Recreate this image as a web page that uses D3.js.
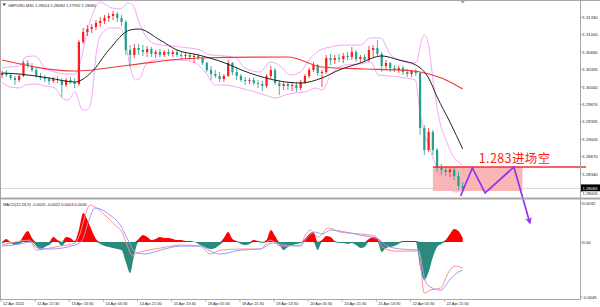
<!DOCTYPE html>
<html lang="en">
<head>
<meta charset="UTF-8">
<title>GBPUSD,M30</title>
<script src="https://d3js.org/d3.v7.min.js"></script>
<style>
  body { margin: 0; background: #fff; }
  svg { display: block; }
  text { font-family: "Liberation Sans", "DejaVu Sans", sans-serif; fill: #222; }
</style>
</head>
<body>
<svg width="600" height="307"></svg>
<script>
// each candle = 4 M30 bars (2 hours), [open, high, low, close]
const barsPerCandle = 4;
const candles = [
  [1.30229,1.30305,1.30172,1.30267],[1.30267,1.30324,1.30191,1.30229],[1.30229,1.30267,1.30134,1.30172],
  [1.30172,1.30210,1.30038,1.30134],[1.30134,1.30248,1.30095,1.30210],[1.30210,1.30496,1.30191,1.30458],
  [1.30458,1.30515,1.30363,1.30401],[1.30401,1.30458,1.30286,1.30324],[1.30324,1.30363,1.30172,1.30210],
  [1.30210,1.30267,1.30134,1.30172],[1.30172,1.30229,1.30095,1.30153],[1.30153,1.30191,1.30038,1.30114],
  [1.30114,1.30191,1.30076,1.30153],[1.30153,1.30210,1.30076,1.30134],[1.30134,1.30172,1.29809,1.30038],
  [1.30038,1.30172,1.30000,1.30134],[1.30134,1.30191,1.30057,1.30095],[1.30095,1.30172,1.29981,1.30057],
  [1.30057,1.30897,1.30019,1.30859],[1.30859,1.31126,1.30820,1.31049],[1.31049,1.31183,1.30973,1.31107],
  [1.31107,1.31202,1.31030,1.31145],[1.31145,1.31278,1.31088,1.31221],[1.31221,1.31336,1.31145,1.31259],
  [1.31259,1.31374,1.31202,1.31317],[1.31317,1.31412,1.31240,1.31355],[1.31355,1.31450,1.31278,1.31393],
  [1.31393,1.31431,1.31240,1.31317],[1.31317,1.31374,1.31164,1.31240],[1.31240,1.31278,1.30611,1.30706],
  [1.30706,1.30801,1.30382,1.30611],[1.30611,1.30820,1.30553,1.30744],[1.30744,1.30820,1.30611,1.30706],
  [1.30706,1.30801,1.30592,1.30668],[1.30668,1.30782,1.30572,1.30725],[1.30725,1.30763,1.30572,1.30630],
  [1.30630,1.30706,1.30553,1.30668],[1.30668,1.30725,1.30572,1.30611],[1.30611,1.30706,1.30572,1.30668],
  [1.30668,1.30725,1.30592,1.30630],[1.30630,1.30706,1.30572,1.30668],[1.30668,1.30706,1.30572,1.30611],
  [1.30611,1.30668,1.30534,1.30592],[1.30592,1.30649,1.30534,1.30611],[1.30611,1.30649,1.30515,1.30572],
  [1.30572,1.30630,1.30458,1.30592],[1.30592,1.30630,1.30515,1.30553],[1.30553,1.30572,1.30420,1.30458],
  [1.30458,1.30477,1.30286,1.30324],[1.30324,1.30401,1.30134,1.30248],[1.30248,1.30324,1.30172,1.30210],
  [1.30210,1.30286,1.30095,1.30153],[1.30153,1.30248,1.30095,1.30210],[1.30210,1.30515,1.30191,1.30458],
  [1.30458,1.30477,1.30229,1.30286],[1.30286,1.30363,1.30134,1.30210],[1.30210,1.30248,1.30095,1.30134],
  [1.30134,1.30191,1.30038,1.30114],[1.30114,1.30172,1.30057,1.30134],[1.30134,1.30191,1.30038,1.30076],
  [1.30076,1.30134,1.29981,1.30057],[1.30057,1.30114,1.29924,1.30019],[1.30019,1.30248,1.29981,1.30210],
  [1.30210,1.30401,1.30153,1.30324],[1.30324,1.30363,1.30038,1.30076],[1.30076,1.30134,1.29847,1.30019],
  [1.30019,1.30095,1.29943,1.30057],[1.30057,1.30095,1.29943,1.30019],[1.30019,1.30076,1.29924,1.30038],
  [1.30038,1.30095,1.29905,1.29981],[1.29981,1.30134,1.29943,1.30095],[1.30095,1.30248,1.30057,1.30210],
  [1.30210,1.30363,1.30172,1.30324],[1.30324,1.30477,1.30286,1.30420],[1.30420,1.30439,1.30210,1.30267],
  [1.30267,1.30324,1.30000,1.30286],[1.30286,1.30611,1.30248,1.30553],[1.30553,1.30630,1.30420,1.30515],
  [1.30515,1.30611,1.30439,1.30553],[1.30553,1.30630,1.30477,1.30534],[1.30534,1.30649,1.30458,1.30592],
  [1.30592,1.30668,1.30515,1.30572],[1.30572,1.30763,1.30515,1.30668],[1.30668,1.30706,1.30477,1.30534],
  [1.30534,1.30611,1.30458,1.30572],[1.30572,1.30630,1.30477,1.30515],[1.30515,1.30782,1.30477,1.30706],
  [1.30706,1.30801,1.30553,1.30744],[1.30744,1.30897,1.30592,1.30630],[1.30630,1.30668,1.30286,1.30401],
  [1.30401,1.30515,1.30324,1.30458],[1.30458,1.30477,1.30286,1.30363],[1.30363,1.30420,1.30286,1.30324],
  [1.30324,1.30401,1.30267,1.30363],[1.30363,1.30401,1.30229,1.30286],[1.30286,1.30343,1.30191,1.30248],
  [1.30248,1.30324,1.30191,1.30305],[1.30305,1.30343,1.30210,1.30267],[1.30267,1.30286,1.29084,1.29218],
  [1.29218,1.29275,1.28703,1.28798],[1.28798,1.29218,1.28760,1.29141],[1.29141,1.29180,1.28703,1.28798],
  [1.28798,1.28836,1.28378,1.28455],[1.28455,1.28531,1.28321,1.28416],[1.28416,1.28493,1.28302,1.28378],
  [1.28378,1.28474,1.28283,1.28416],[1.28416,1.28455,1.28226,1.28302],[1.28302,1.28378,1.28035,1.28111],
  [1.28111,1.28187,1.27992,1.28065]
];

// moving averages / bands: [candle index, price]
const maBlack = [[0,1.30267],[4,1.30248],[11,1.30172],[17,1.30095],[21,1.30286],[25,1.30706],[30,1.31088],
  [32,1.31107],[37,1.30897],[41,1.30706],[46,1.30611],[51,1.30496],[58,1.30267],[65,1.30114],[70,1.30076],
  [75,1.30172],[79,1.30324],[84,1.30458],[89,1.30592],[93,1.30515],[97,1.30420],[100,1.30172],[102,1.29809],
  [105,1.29332],[108,1.28817]];
const maRed = [[0,1.30515],[17,1.30305],[30,1.30420],[46,1.30553],[67,1.30572],[75,1.30382],[85,1.30343],
  [93,1.30324],[98,1.30286],[103,1.30172],[108,1.29962]];
const bbUpper = [[0,1.30363],[1.8,1.30382],[4.2,1.30401],[5.4,1.30572],[7.7,1.30592],[10.1,1.30363],
  [12.4,1.30286],[14.8,1.30248],[17.1,1.30248],[18.3,1.30458],[19.5,1.30897],[20.6,1.31240],[21.8,1.31507],
  [23,1.31622],[24.4,1.31565],[25.8,1.31507],[27.7,1.31488],[29.5,1.31603],[30.7,1.31565],[31.9,1.31278],
  [33.5,1.30992],[35.9,1.30820],[41.8,1.30763],[46.4,1.30706],[48.8,1.30611],[52.3,1.30592],[54.7,1.30553],
  [57,1.30363],[60.5,1.30286],[62.9,1.30477],[65.2,1.30401],[67.6,1.30229],[69.9,1.30286],[72.3,1.30553],
  [74.6,1.30706],[77,1.30763],[80.5,1.30801],[84,1.30801],[86.4,1.30935],[88.7,1.30935],[91.1,1.30611],
  [93.4,1.30515],[95.7,1.30458],[97.2,1.30477],[98.1,1.30801],[99,1.30992],[100,1.30801],[100.9,1.30229],
  [101.7,1.29752],[102.8,1.29275],[104,1.29008],[105.6,1.28703],[108,1.28512]];
const bbLower = [[0,1.30095],[1.8,1.30000],[4.2,1.29981],[5.4,1.30038],[7.7,1.30057],[10.1,1.30019],
  [12.4,1.29981],[14.1,1.29790],[15.5,1.29752],[17.1,1.29905],[18.8,1.29561],[19.5,1.29561],[20.4,1.29599],
  [21.1,1.29847],[22.0,1.30611],[23,1.30973],[25.3,1.31126],[27.7,1.31126],[28.8,1.30897],[30,1.30401],
  [31.2,1.30134],[32.4,1.30172],[33.5,1.30401],[35.9,1.30515],[41.8,1.30515],[45.3,1.30458],[47.6,1.30286],
  [50,1.30038],[52.3,1.30038],[55.8,1.29981],[59.4,1.29905],[61.7,1.29847],[64.1,1.29790],[66.4,1.29847],
  [68.7,1.29886],[71.1,1.29905],[73.4,1.29981],[75.1,1.29943],[77,1.30229],[80.5,1.30420],[84,1.30439],
  [86.4,1.30477],[88.2,1.30229],[91.1,1.30210],[94.6,1.30172],[96.9,1.30134],[97.9,1.29561],[98.8,1.29180],
  [100,1.28893],[101.1,1.28626],[102.8,1.28321],[104.7,1.28073],[106.3,1.27997],[108,1.28035]];

// MACD histogram, one value per candle
const macdHist = [-0.00016,0.00025,-0.00008,-0.00025,-0.00016,0.00049,0.00090,0.00033,-0.00033,-0.00066,
  -0.00041,-0.00025,0.00041,0.00016,-0.00033,0.00041,0.00033,0.00008,0.00098,0.00238,0.00180,0.00098,0.00025,
  -0.00016,-0.00033,-0.00041,-0.00049,-0.00057,-0.00066,-0.00164,-0.00254,-0.00098,0.00025,0.00057,0.00041,
  0.00016,0.00025,0.00041,0.00033,0.00033,0.00025,0.00016,0.00016,0.00008,0.00008,0.00003,-0.00016,-0.00033,
  -0.00049,-0.00057,-0.00049,-0.00025,0.00033,0.00082,0.00025,0.00008,-0.00016,-0.00025,-0.00016,0.00016,
  0.00008,-0.00008,0.00016,0.00098,0.00049,-0.00025,-0.00066,-0.00041,-0.00025,-0.00016,-0.00008,0.00025,
  0.00066,0.00082,-0.00066,0.00016,0.00049,0.00041,0.00008,-0.00008,-0.00008,-0.00016,-0.00008,-0.00025,
  -0.00049,-0.00041,0.00025,0.00041,0.00033,-0.00082,-0.00049,-0.00041,-0.00033,-0.00016,0.00008,0.00008,
  0.00008,0.00008,-0.00205,-0.00311,-0.00246,-0.00123,-0.00041,-0.00016,0.00016,0.00066,0.00107,0.00090,0.00033];
// MACD lines: [candle index, value]
const macdRed = [[0,-0.00025],[4.2,0.00008],[6.5,0.00016],[8,-0.00066],[11.2,-0.00049],[13.6,-0.00033],
  [17.1,-0.00008],[18.3,0.00074],[19.5,0.00221],[20.6,0.00303],[21.8,0.00287],[24.1,0.00221],[26.5,0.00139],
  [28.1,0.00082],[29.3,-0.00025],[30.5,-0.00107],[32.4,-0.00082],[37.1,-0.00049],[41.8,-0.00025],
  [46.4,-0.00033],[48.8,-0.00098],[51.1,-0.00066],[55.8,-0.00057],[60.5,-0.00057],[62.9,0.00016],
  [65.2,-0.00033],[69.9,-0.00025],[71.1,0.00057],[72.3,0.00098],[74.1,0.00041],[76.5,0.00115],[79.3,0.00082],
  [84,0.00066],[87.5,0.00049],[89.2,-0.00041],[92.2,-0.00074],[97.6,-0.00074],[99,-0.00418],[100.4,-0.00394],
  [102.8,-0.00377],[104.7,-0.00246],[106.3,-0.00197],[108,-0.00213]];
const macdBlue = [[0,-0.00033],[4.2,-0.00016],[6.5,0],[8.4,-0.00049],[11.2,-0.00057],[17.1,-0.00025],
  [18.8,0.00016],[20.2,0.00164],[21.8,0.00279],[23,0.00271],[25.3,0.00221],[27.7,0.00139],[29.3,0.00033],
  [31.2,-0.00082],[33.5,-0.00098],[37.1,-0.00066],[41.8,-0.00033],[46.4,-0.00033],[49.3,-0.00082],
  [51.1,-0.00098],[55.8,-0.00066],[60.5,-0.00057],[63.4,-0.00008],[66.4,-0.00025],[69.9,-0.00033],
  [71.8,0.00049],[73.4,0.00082],[75.1,0.00066],[77,0.00098],[80.5,0.00082],[84,0.00057],[88.2,0.00025],
  [89.9,-0.00025],[93.4,-0.00057],[97.6,-0.00066],[99.3,-0.00328],[100.9,-0.00377],[102.8,-0.00394],
  [105.1,-0.00303],[107,-0.00246],[108,-0.0023]];

const priceTicks = [1.31330,1.31000,1.30665,1.30335,1.30000,1.29670,1.29335,1.29005,1.28670,1.28340,1.28005];
const macdTicks = [[0.0032,"0.0032"],[0,"0.00"],[-0.0045,"-0.0045"]];
const timeLabels = ["12 Apr 2022","12 Apr 21:30","13 Apr 13:30","14 Apr 05:30","14 Apr 21:30","15 Apr 13:30",
  "18 Apr 05:30","18 Apr 21:30","19 Apr 13:30","20 Apr 05:30","20 Apr 21:30","21 Apr 13:30","22 Apr 05:30","22 Apr 21:30"];
const timeTickBars = [1,33,65,97,129,161,193,225,257,289,321,353,385,417]; // M30 bar index of each label
const lastPrice = 1.28065;

// annotation drawn on the chart (bar index, price)
const entryPrice = 1.28474;
const zoneBars = [406, 490];
const zoneBottom = 1.28016;
const zigzag = [[432,1.27920],[443,1.28455],[455,1.27978],[482,1.28474],[497,1.27405]];
const noteText = "1.283进场空";

const svg = d3.select("svg");
const plotRight = 580;
const x = d3.scaleLinear().domain([0, 544]).range([0, plotRight]);
const cx = i => x(i * barsPerCandle + barsPerCandle / 2);
const y = d3.scaleLinear().domain([1.28340, 1.30000]).range([174, 87]);
const ym = d3.scaleLinear().domain([-0.0045, 0.0032]).range([297, 203]);

const upColor = "#ff1a1a", downColor = "#25a090";

const defs = svg.append("defs");
defs.append("clipPath").attr("id", "cpMain").append("rect").attr("x", 0).attr("y", 1).attr("width", plotRight).attr("height", 196);
defs.append("clipPath").attr("id", "cpMacd").append("rect").attr("x", 0).attr("y", 200).attr("width", plotRight).attr("height", 99);
defs.append("marker").attr("id", "arrow").attr("viewBox", "0 0 10 10").attr("refX", 8).attr("refY", 5)
  .attr("markerWidth", 7).attr("markerHeight", 7).attr("markerUnits", "userSpaceOnUse").attr("orient", "auto")
  .append("path").attr("d", "M0,0 L10,5 L0,10 L3,5 z").attr("fill", "#9430f0");

const main = svg.append("g").attr("clip-path", "url(#cpMain)");

// current price line
main.append("line").attr("x1", 0).attr("x2", plotRight).attr("y1", y(lastPrice)).attr("y2", y(lastPrice))
  .attr("stroke", "#d8d8d8").attr("stroke-width", 1);

// shaded zone
main.append("rect").attr("x", x(zoneBars[0])).attr("width", x(zoneBars[1]) - x(zoneBars[0]))
  .attr("y", y(entryPrice)).attr("height", y(zoneBottom) - y(entryPrice))
  .attr("fill", "#f7a9a9").attr("opacity", 0.85);

// bollinger bands
const pline = d3.line().x(d => cx(d[0])).y(d => y(d[1])).curve(d3.curveMonotoneX);
[bbUpper, bbLower].forEach(b => main.append("path").attr("d", pline(b)).attr("fill", "none")
  .attr("stroke", "#f7a6f7").attr("stroke-width", 1));

// candles
const bodyW = 2.2;
main.selectAll("line.wick").data(candles).join("line").attr("class", "wick")
  .attr("x1", (d, i) => cx(i)).attr("x2", (d, i) => cx(i))
  .attr("y1", d => y(d[1])).attr("y2", d => y(d[2]))
  .attr("stroke", d => d[3] >= d[0] ? upColor : downColor).attr("stroke-width", 0.8);
main.selectAll("rect.body").data(candles).join("rect").attr("class", "body")
  .attr("x", (d, i) => cx(i) - bodyW / 2).attr("width", bodyW)
  .attr("y", d => y(Math.max(d[0], d[3])))
  .attr("height", d => Math.max(0.8, Math.abs(y(d[0]) - y(d[3]))))
  .attr("fill", d => d[3] >= d[0] ? upColor : downColor);

// moving averages
main.append("path").attr("d", pline(maRed)).attr("fill", "none").attr("stroke", "#f03a3a").attr("stroke-width", 1.2);
main.append("path").attr("d", pline(maBlack)).attr("fill", "none").attr("stroke", "#222").attr("stroke-width", 1);

// entry line + note
svg.append("line").attr("x1", x(zoneBars[0])).attr("x2", 586).attr("y1", y(entryPrice)).attr("y2", y(entryPrice))
  .attr("stroke", "#f03030").attr("stroke-width", 1.4);
svg.append("text").attr("x", x(449)).attr("y", y(entryPrice) - 4)
  .style("font-family", '"Noto Sans CJK SC", sans-serif').style("font-size", "12.5px").style("fill", "#ff1a1a")
  .attr("letter-spacing", 0.4).text(noteText);

// projected path
svg.append("path").attr("d", d3.line().x(d => x(d[0])).y(d => y(d[1]))(zigzag))
  .attr("fill", "none").attr("stroke", "#9430f0").attr("stroke-width", 1.7).attr("marker-end", "url(#arrow)");

// MACD panel
const macd = svg.append("g").attr("clip-path", "url(#cpMacd)");
const histArea = sign => d3.area().x((d, i) => cx(i)).y0(ym(0))
  .y1(d => ym(sign > 0 ? Math.max(d, 0) : Math.min(d, 0))).curve(d3.curveMonotoneX);
macd.append("path").attr("d", histArea(1)(macdHist)).attr("fill", "#ff0000");
macd.append("path").attr("d", histArea(-1)(macdHist)).attr("fill", "#2a8a7c");
const mline = d3.line().x(d => cx(d[0])).y(d => ym(d[1])).curve(d3.curveMonotoneX);
macd.append("path").attr("d", mline(macdRed)).attr("fill", "none").attr("stroke", "#ff9090").attr("stroke-width", 1);
macd.append("path").attr("d", mline(macdBlue)).attr("fill", "none").attr("stroke", "#9a9aff").attr("stroke-width", 1);

// frames
const frame = "#a8a8a8";
svg.append("line").attr("x1", 0).attr("x2", 600).attr("y1", 0.5).attr("y2", 0.5).attr("stroke", frame);
svg.append("line").attr("x1", 0.5).attr("x2", 0.5).attr("y1", 0).attr("y2", 300).attr("stroke", frame);
svg.append("rect").attr("x", 0).attr("y", 197.5).attr("width", 600).attr("height", 2).attr("fill", frame);
svg.append("line").attr("x1", 0).attr("x2", plotRight).attr("y1", 299.5).attr("y2", 299.5).attr("stroke", frame);
svg.append("line").attr("x1", plotRight + 0.5).attr("x2", plotRight + 0.5).attr("y1", 0).attr("y2", 300).attr("stroke", frame);

// price axis
const fs = "4.2px";
priceTicks.forEach(p => {
  const below = p < lastPrice ? 1.6 : 0; // lowest label sits just under the price box
  svg.append("line").attr("x1", plotRight).attr("x2", plotRight + 3).attr("y1", y(p)).attr("y2", y(p)).attr("stroke", "#888").attr("stroke-width", 0.6);
  svg.append("text").attr("x", plotRight + 2.5).attr("y", y(p) + 1.5 + below).style("font-size", fs).text(p.toFixed(5));
});
svg.append("rect").attr("x", plotRight + 1).attr("y", y(lastPrice) - 4).attr("width", 19).attr("height", 6.8).attr("fill", "#000");
svg.append("text").attr("x", plotRight + 2.5).attr("y", y(lastPrice) + 1.3).style("font-size", fs).style("fill", "#fff").text(lastPrice.toFixed(5));

// macd axis
macdTicks.forEach(([v, s]) => {
  svg.append("line").attr("x1", plotRight).attr("x2", plotRight + 3).attr("y1", ym(v)).attr("y2", ym(v)).attr("stroke", "#888").attr("stroke-width", 0.6);
  svg.append("text").attr("x", plotRight + 2.5).attr("y", ym(v) + 1.5).style("font-size", fs).text(s);
});

// time axis
timeLabels.forEach((s, k) => {
  const tx = x(timeTickBars[k]);
  svg.append("line").attr("x1", tx).attr("x2", tx).attr("y1", 299.5).attr("y2", 302).attr("stroke", "#888").attr("stroke-width", 0.6);
  svg.append("text").attr("x", tx + 2).attr("y", 305).style("font-size", "3.9px").text(s);
});

// titles
svg.append("path").attr("d", "M2.5,3.5 L6,3.5 L4.25,6 Z").attr("fill", "#333");
svg.append("text").attr("x", 8).attr("y", 6.5).style("font-size", "4px").text("GBPUSD,M30  1.28024 1.28084 1.27992 1.28065");
svg.append("text").attr("x", 3).attr("y", 205.5).style("font-size", "4px").text("MACD(12,26,9) -0.0020 -0.0022 0.0003 0.0000");
// chart shift marker
svg.append("path").attr("d", `M${x(434) - 2},1 L${x(434) + 2},1 L${x(434)},3.5 Z`).attr("fill", "#999");
</script>
</body>
</html>
